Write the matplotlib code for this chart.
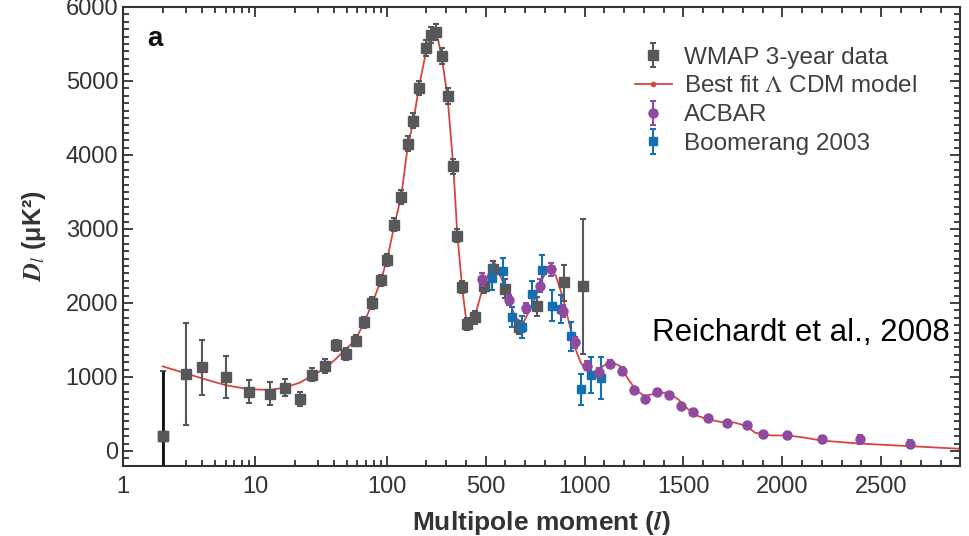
import matplotlib
matplotlib.use('Agg')
import matplotlib.pyplot as plt
from matplotlib.lines import Line2D
from matplotlib.ticker import FixedLocator, MultipleLocator, NullFormatter
import numpy as np

plt.rcParams['font.family'] = ['Liberation Sans', 'DejaVu Sans']
plt.rcParams['mathtext.fontset'] = 'stix'

# WMAP 3-year binned power spectrum
wmap_l = [2, 3, 4, 6, 9, 13, 17, 22, 27, 34, 41, 49, 58, 67, 78, 90, 101, 114,
          129, 144, 159, 177, 199, 223, 248, 277, 307, 336, 356, 381, 407, 447,
          489, 537, 596, 669, 761, 896, 991]
wmap_d = [200, 1038, 1129, 993, 798, 776, 857, 708, 1024, 1151, 1432, 1310,
          1490, 1740, 1997, 2304, 2581, 3060, 3436, 4150, 4462, 4906, 5449,
          5621, 5661, 5336, 4793, 3847, 2911, 2214, 1717, 1807, 2236, 2463,
          2191, 1672, 1957, 2282, 2236]
wmap_lo = [1400, 688, 372, 281, 153, 154, 113, 104, 85, 99, 77, 75, 75, 75, 80,
           80, 85, 90, 95, 100, 100, 100, 110, 110, 110, 110, 110, 100, 90, 85,
           80, 90, 100, 110, 130, 90, 128, 249, 926]
wmap_hi = [880, 692, 366, 285, 163, 158, 113, 95, 91, 91, 72, 75, 75, 75, 80,
           80, 85, 90, 95, 100, 100, 100, 110, 110, 110, 110, 110, 100, 90, 85,
           80, 90, 100, 110, 130, 90, 122, 235, 905]

# ACBAR
acbar_l = [479, 619, 703, 774, 832, 891, 952, 1013, 1073, 1128, 1190, 1249,
           1308, 1367, 1426, 1487, 1548, 1624, 1720, 1821, 1902, 2023, 2200,
           2393, 2645]
acbar_d = [2318, 2042, 1934, 2236, 2453, 1889, 1468, 1151, 1061, 1174, 1083,
           825, 708, 798, 762, 608, 532, 441, 373, 346, 224, 210, 156, 156, 98]
acbar_err = [90, 70, 70, 90, 90, 80, 70, 60, 55, 50, 50, 45, 40, 40, 40, 40,
             40, 35, 35, 35, 35, 35, 40, 55, 50]

# Boomerang 2003
boom_l = [534, 585, 635, 683, 733, 784, 834, 883, 933, 984, 1034, 1083]
boom_d = [2341, 2432, 1807, 1672, 2124, 2440, 1965, 1920, 1550, 835, 1029, 984]
boom_err = [163, 170, 136, 150, 176, 208, 204, 190, 197, 210, 240, 287]

# best fit LCDM model
model_l = [2, 3, 4, 6, 9, 13, 17, 22, 27, 34, 41, 49, 58, 67, 78, 90, 101, 114,
           129, 144, 159, 177, 199, 220, 240, 260, 280, 307, 336, 356, 381, 400,
           417, 447, 489, 543, 596, 648, 689, 742, 779, 812, 854, 887, 921, 954,
           980, 1003, 1052, 1085, 1128, 1178, 1221, 1263, 1305, 1364, 1422,
           1473, 1524, 1574, 1625, 1692, 1760, 1819, 1862, 1946, 2031, 2115,
           2200, 2393, 2645, 2900]
model_d = [1143, 1048, 980, 889, 835, 825, 857, 925, 1015, 1115, 1242, 1377,
           1500, 1730, 2000, 2300, 2600, 3040, 3450, 4100, 4450, 4950, 5400,
           5620, 5650, 5550, 5280, 4780, 3850, 2950, 2200, 1800, 1700, 1840,
           2240, 2554, 2230, 1807, 1726, 2011, 2282, 2463, 2372, 2100, 1740,
           1377, 1197, 1106, 1061, 1129, 1210, 1151, 970, 811, 744, 780, 790,
           699, 563, 472, 427, 391, 383, 337, 247, 210, 210, 179, 140, 100, 65,
           30]

x_major = [1, 10, 100, 500, 1000, 1500, 2000, 2500]

L_SWITCH = 200.0
LIN_SLOPE = 0.0015  # decades per unit of l above the switch


def fwd(l):
    l = np.asarray(l, dtype=float)
    lg = np.log10(np.clip(l, 1e-3, None))
    return np.where(l <= L_SWITCH, lg, np.log10(L_SWITCH) + (l - L_SWITCH) * LIN_SLOPE)


def inv(f):
    f = np.asarray(f, dtype=float)
    fs = np.log10(L_SWITCH)
    return np.where(f <= fs, 10 ** np.clip(f, -5, fs), L_SWITCH + (f - fs) / LIN_SLOPE)


ink = '#333333'
gray = '#58585a'
red = '#d8443f'
purple = '#8f4aa0'
blue = '#1470b3'

fig = plt.figure(figsize=(9.69, 5.36), dpi=100)
ax = fig.add_axes([0.127, 0.131, 0.864, 0.856])
ax.set_xscale('function', functions=(fwd, inv))

ax.plot(model_l, model_d, color=red, lw=1.3, zorder=2)

eb_kw = dict(linestyle='none', elinewidth=1.5, capthick=1.5, capsize=2.5)
h_wmap = ax.errorbar(wmap_l, wmap_d, yerr=[wmap_lo, wmap_hi], fmt='s',
                     color=gray, ms=7.5, ecolor=gray, zorder=3, **eb_kw)
# the quadrupole bar is drawn darker
ax.errorbar(wmap_l[:1], wmap_d[:1], yerr=[wmap_lo[:1], wmap_hi[:1]], fmt='s',
            color=gray, ms=7.5, ecolor='#111111', elinewidth=2, capsize=0,
            zorder=3)
h_boom = ax.errorbar(boom_l, boom_d, yerr=boom_err, fmt='s', color=blue,
                     ms=5.5, ecolor=blue, zorder=4, **eb_kw)
h_acbar = ax.errorbar(acbar_l, acbar_d, yerr=acbar_err, fmt='o', color=purple,
                      ms=6.5, ecolor=purple, zorder=5, **eb_kw)

ax.set_xlim(1, 2900)
ax.set_ylim(-200, 6000)

ax.xaxis.set_major_locator(FixedLocator(x_major))
ax.set_xticklabels([str(v) for v in x_major])
x_minor = ([v for v in range(2, 10)] + [v for v in range(20, 100, 10)]
           + [200, 300, 400] + [v for v in range(600, 2900, 100) if v % 500])
ax.xaxis.set_minor_locator(FixedLocator(x_minor))
ax.xaxis.set_minor_formatter(NullFormatter())
ax.yaxis.set_major_locator(MultipleLocator(1000))
ax.yaxis.set_minor_locator(MultipleLocator(100))

ax.tick_params(which='both', direction='in', top=True, right=True,
               colors=ink, labelsize=17, width=1.3)
ax.tick_params(which='major', length=7)
ax.tick_params(which='minor', length=4)
ax.tick_params(axis='x', which='major', pad=7)
for sp in ax.spines.values():
    sp.set_color(ink)
    sp.set_linewidth(1.5)

ax.set_xlabel(r'Multipole moment ($\mathbfit{l}$)', fontsize=19,
              fontweight='bold', color=ink, labelpad=8)
ax.set_ylabel(r'$\mathbfit{D}_{\mathit{l}}$ (μK²)', fontsize=18,
              fontweight='bold', color=ink, labelpad=13)

ax.text(0.029, 0.93, 'a', transform=ax.transAxes, fontsize=20,
        fontweight='bold', color='#111111', ha='left', va='center')
ax.text(0.632, 0.29, 'Reichardt et al., 2008', transform=ax.transAxes,
        fontsize=22.5, color='black', ha='left', va='center')

h_model = Line2D([], [], color=red, lw=1.3, marker='o', ms=3)
leg = ax.legend([h_wmap, h_model, h_acbar, h_boom],
                ['WMAP 3-year data', r'Best fit $\Lambda$ CDM model', 'ACBAR',
                 'Boomerang 2003'],
                loc='upper left', bbox_to_anchor=(0.6, 0.935), frameon=False,
                fontsize=17.5, labelspacing=0.28, handlelength=1.5,
                handletextpad=0.5, borderaxespad=0)
for t in leg.get_texts():
    t.set_color('#404040')

fig.savefig('out.png', dpi=100)
